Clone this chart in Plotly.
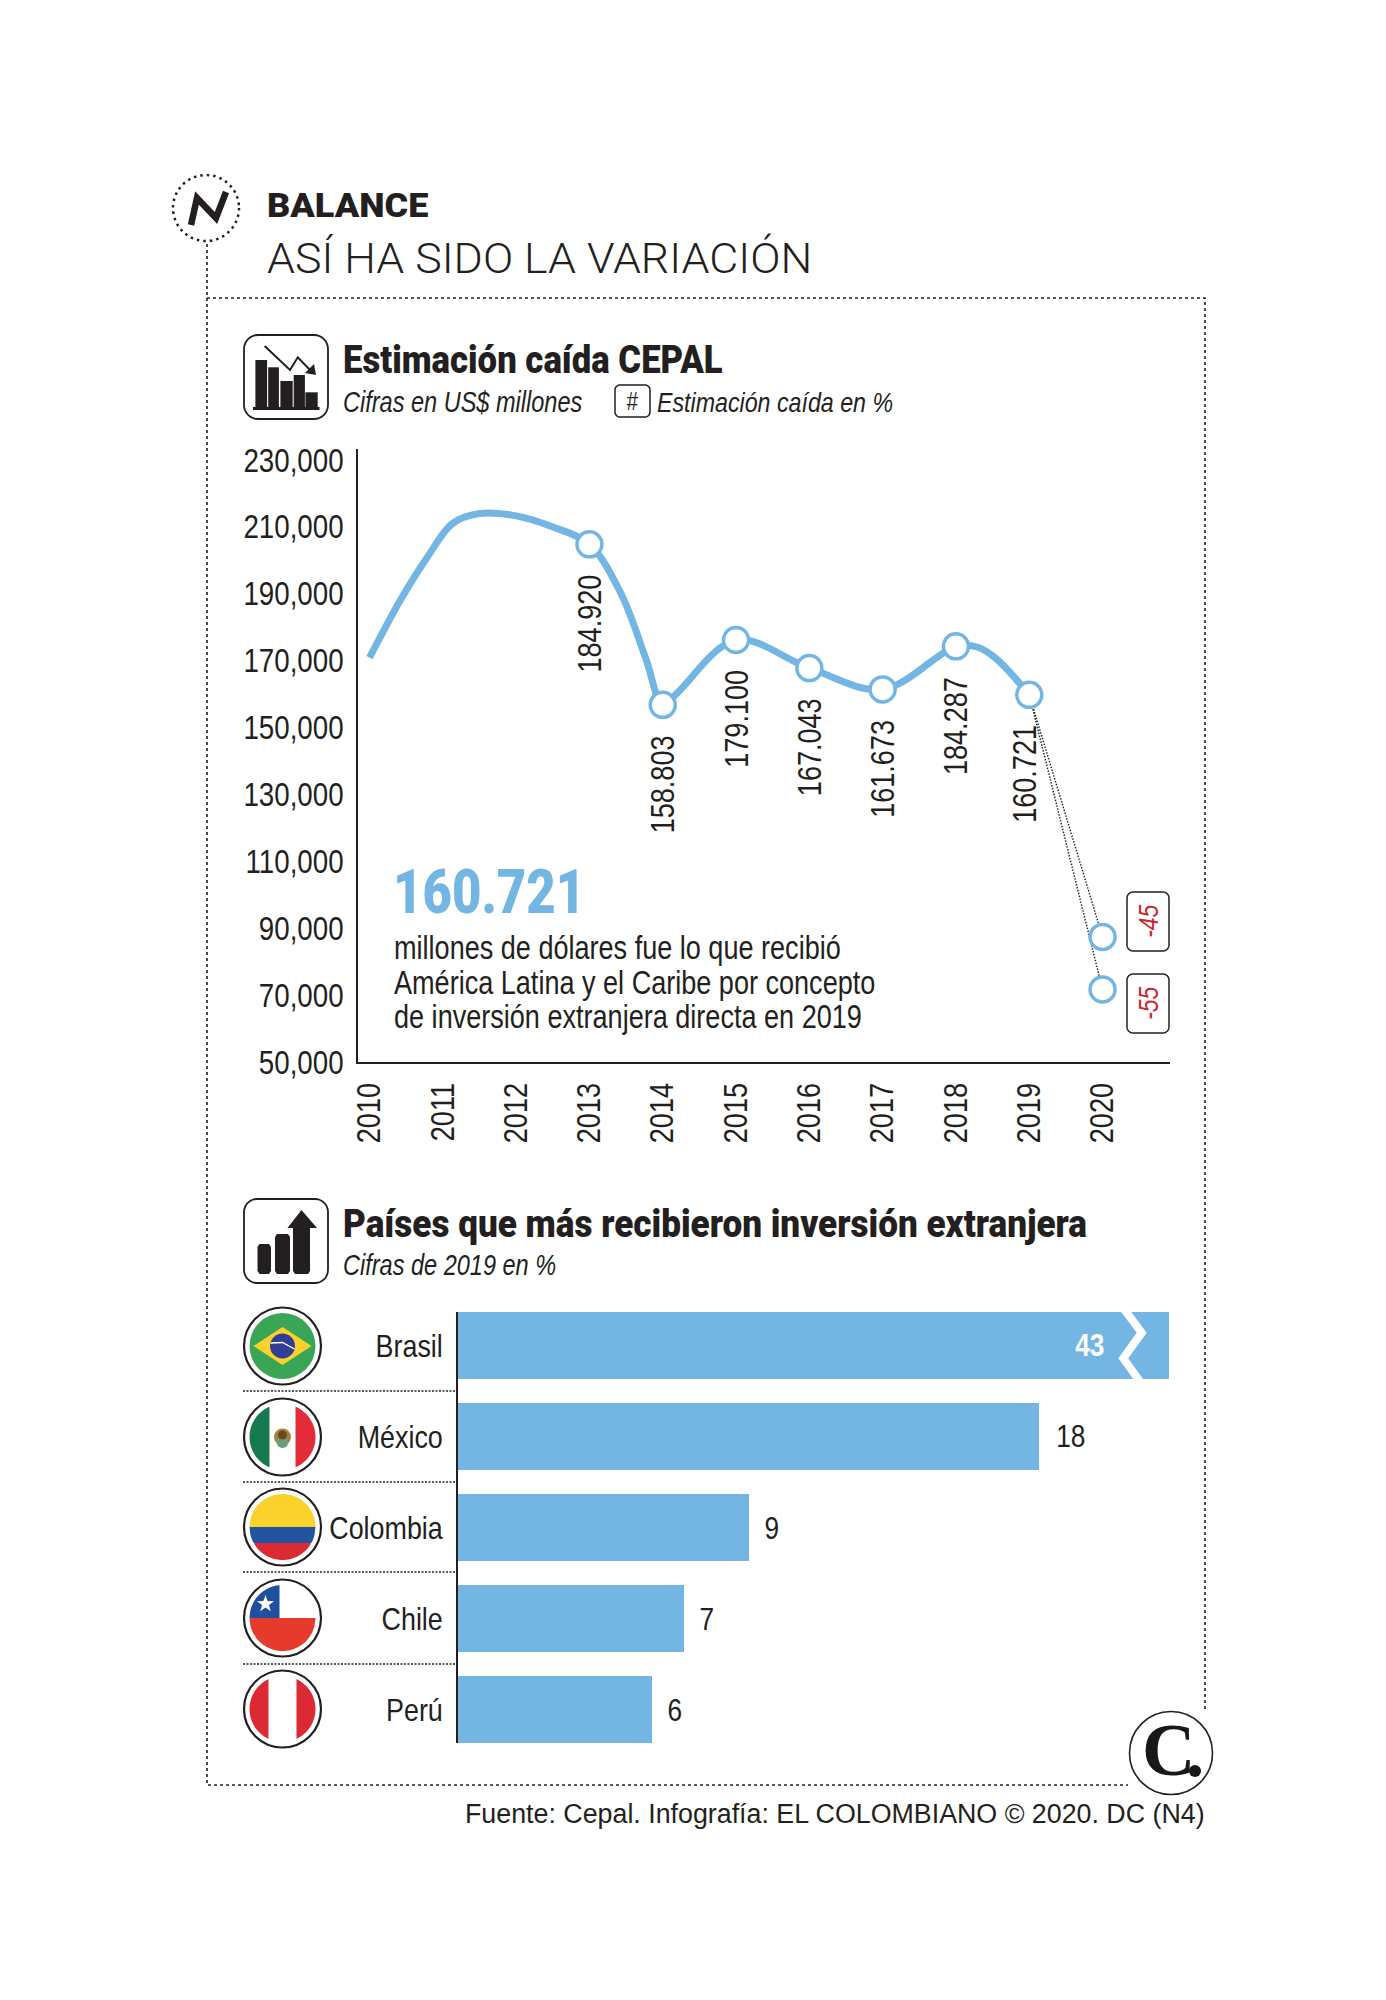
import numpy as np
import plotly.graph_objects as go

# ---------- data ----------
# the curve as drawn (some readings fall between years)
curve_x = [2010, 2010.44, 2010.8, 2011.13, 2011.5, 2012, 2012.5, 2013, 2013.43, 2013.77, 2014, 2014.2,
           2015, 2016, 2017, 2018, 2018.29, 2018.55, 2019]
curve_y = [170900, 188800, 201300, 211000, 214000, 213300, 210000, 204800, 190100, 170600, 156800, 160400,
           176200, 167800, 161400, 174300, 174100, 170600, 159800]
marker_years = [2013, 2014, 2015, 2016, 2017, 2018, 2019]
marker_values = [204800, 156800, 176200, 167800, 161400, 174300, 159800]
marker_labels = ["184.920", "158.803", "179.100", "167.043", "161.673", "184.287", "160.721"]
estim_year = [2020, 2020]
estim_values = [87400, 71700]
estim_labels = ["-45", "-55"]
y_ticks = [50000, 70000, 90000, 110000, 130000, 150000, 170000, 190000, 210000, 230000]
x_ticks = [2010, 2011, 2012, 2013, 2014, 2015, 2016, 2017, 2018, 2019, 2020]
paises = ["Brasil", "México", "Colombia", "Chile", "Perú"]
porcentaje = [43, 18, 9, 7, 6]

# ---------- style ----------
W, H = 1386, 2000
BLUE = "#73b5e3"
INK = "#231f20"
RED = "#c9252f"
# the fallback name "sqNN" marks text to be set at NN% of its width after drawing
NARROW = "Liberation Sans, sq82"
NARROW84 = "Liberation Sans, sq84"
HEAVY = "Roboto, sq82"
TITLE = "Roboto, sq89"
SANS = "Liberation Sans"


def px(x):
    return x / W


def py(y):
    return 1 - y / H


def pth(points, close=True):
    s = "M " + " L ".join(f"{px(x):.5f},{py(y):.5f}" for x, y in points)
    return s + (" Z" if close else "")


shapes = []


def poly(points, fill=INK):
    shapes.append(dict(type="path", xref="paper", yref="paper", path=pth(points),
                       fillcolor=fill, line=dict(width=0)))


def line(points, color=INK, width=1.5, dash="solid"):
    shapes.append(dict(type="path", xref="paper", yref="paper", path=pth(points, False),
                       line=dict(color=color, width=width, dash=dash), fillcolor="rgba(0,0,0,0)"))


def circle(cx, cy, r, fill="rgba(0,0,0,0)", color=INK, width=1.5, dash="solid"):
    shapes.append(dict(type="circle", xref="paper", yref="paper",
                       x0=px(cx - r), x1=px(cx + r), y0=py(cy + r), y1=py(cy - r),
                       fillcolor=fill, line=dict(color=color, width=width, dash=dash)))


def rrect(x0, y0, x1, y1, r, color=INK, width=1.8, fill="white"):
    pts = []
    for cx, cy, a0 in [(x1 - r, y0 + r, -90), (x1 - r, y1 - r, 0), (x0 + r, y1 - r, 90), (x0 + r, y0 + r, 180)]:
        for a in np.radians(np.linspace(a0, a0 + 90, 9)):
            pts.append((cx + r * np.cos(a), cy + r * np.sin(a)))
    shapes.append(dict(type="path", xref="paper", yref="paper", path=pth(pts),
                       fillcolor=fill, line=dict(color=color, width=width)))


def region(cx, cy, r, x0, x1, ymin, ymax, fill):
    xs = np.linspace(x0, x1, 70)
    top, bot = [], []
    for x in xs:
        h = np.sqrt(max(r * r - x * x, 0))
        a, b = max(-h, ymin), min(h, ymax)
        if a <= b:
            top.append((cx + x, cy + a))
            bot.append((cx + x, cy + b))
    poly(top + bot[::-1], fill)


annotations = []


def text(x, y, s, size, font=NARROW, color=INK, anchor="left", bold=False, italic=False, angle=0, weight=None):
    annotations.append(dict(
        xref="paper", yref="paper", x=px(x), y=py(y), text=s, showarrow=False,
        xanchor=anchor, yanchor="middle", textangle=angle, align=anchor,
        font=dict(family=font, size=size, color=color,
                  weight=weight if weight else ("bold" if bold else "normal"),
                  style="italic" if italic else "normal"),
        borderpad=0, borderwidth=0))


# ---------- frame and header ----------
DOT = "3px,3px"
line([(207, 244), (207, 1785), (1128, 1785)], width=1.6, dash=DOT)
line([(207, 298), (1205, 298), (1205, 1712)], width=1.6, dash=DOT)
circle(206, 208, 33, width=2.5, dash="2.5px,4px")
line([(191, 225), (197, 198), (216, 218), (226, 192)], width=6.5)
text(267, 205, "BALANCE", 34, font="Roboto, sq106", weight=900)
text(267, 258, "ASÍ HA SIDO LA VARIACIÓN", 43, font="Roboto, sq104", weight=300)

# ---------- icon 1 ----------
rrect(244, 335, 328, 419, 14)
for x0, x1, top in [(255.4, 267.1, 360), (268.2, 278.9, 367.3), (280.4, 292.7, 381),
                    (293.7, 304.9, 375), (305.4, 317.7, 392.3)]:
    poly([(x0, top), (x1, top), (x1, 408), (x0, 408)])
poly([(253, 407), (319.5, 407), (319.5, 410), (253, 410)])
line([(264.6, 346), (290, 370), (297.8, 357.3), (311, 371)], width=2)
poly([(316, 375), (305, 373), (314, 364)])

text(343, 360, "Estimación caída CEPAL", 39, font=TITLE, weight=900)
text(343, 402, "Cifras en US$ millones", 28.7, italic=True)
rrect(615, 385, 650, 417, 5, width=1.5)
text(632, 401, "#", 25, italic=True, anchor="center")
text(657, 402, "Estimación caída en %", 28.3, italic=True)

# ---------- icon 2 ----------
rrect(244, 1199, 328, 1283, 13)
for x0, x1, top in [(257.5, 271, 1244), (275, 290, 1234), (293, 310, 1225)]:
    poly([(x0 + 2, top), (x1 - 2, top), (x1, top + 3), (x1, 1271), (x1 - 2, 1274),
          (x0 + 2, 1274), (x0, 1271), (x0, top + 3)])
poly([(287.5, 1228), (301.5, 1210), (317, 1228)])

text(343, 1224, "Países que más recibieron inversión extranjera", 39, font="Roboto, sq90", weight=900)
text(343, 1265, "Cifras de 2019 en %", 28.7, italic=True)

# ---------- big figure ----------
text(393, 891, "160.721", 62, font=HEAVY, color=BLUE, weight=900)
text(394, 947, "millones de dólares fue lo que recibió", 33)
text(394, 982, "América Latina y el Caribe por concepto", 33)
text(394, 1016, "de inversión extranjera directa en 2019", 33)

# ---------- red boxes ----------
for (y0, y1), lab in zip([(892, 951), (974, 1033)], estim_labels):
    rrect(1127, y0, 1169, y1, 6, width=1.5)
    text(1148, (y0 + y1) / 2, lab, 28, color=RED, italic=True, anchor="center", angle=-90)

# ---------- flags ----------
FX, R_OUT, R_IN = 282.5, 38.5, 33
FY = [1346, 1437, 1527, 1618, 1709]
GREEN, YEL, NAVY, FRED = "#3aa655", "#fbd12b", "#21539f", "#dc2a35"
for fy in FY:
    circle(FX, fy, R_OUT, fill="white", width=2.2)
# Brasil
circle(FX, FY[0], R_IN, fill=GREEN, width=0)
poly([(FX - 29, FY[0]), (FX, FY[0] - 19), (FX + 29, FY[0]), (FX, FY[0] + 19)], YEL)
circle(FX, FY[0], 12.5, fill="#2f3f96", width=0)
line([(FX - 12, FY[0] - 3), (FX, FY[0] - 3.5), (FX + 12, FY[0] + 3)], color="white", width=1.4)
# México
region(FX, FY[1], R_IN, -R_IN, -13, -R_IN, R_IN, "#17794f")
region(FX, FY[1], R_IN, 13, R_IN, -R_IN, R_IN, "#e32b3a")
circle(FX, FY[1], 8.5, fill="#a8803c", width=0)
circle(FX, FY[1] + 5, 6, fill="#6f9d7c", width=0)
circle(FX, FY[1] - 2, 4.5, fill="#6d4a22", width=0)
# Colombia
region(FX, FY[2], R_IN, -R_IN, R_IN, -R_IN, 0, YEL)
region(FX, FY[2], R_IN, -R_IN, R_IN, 0, 16, NAVY)
region(FX, FY[2], R_IN, -R_IN, R_IN, 16, R_IN, FRED)
# Chile
region(FX, FY[3], R_IN, -R_IN, R_IN, 0, R_IN, "#e63a2c")
region(FX, FY[3], R_IN, -R_IN, -3, -R_IN, 0, "#1f4fa0")
star = []
for k in range(10):
    rr = 9 if k % 2 == 0 else 3.6
    a = np.radians(-90 + 36 * k)
    star.append((FX - 17 + rr * np.cos(a), FY[3] - 14 + rr * np.sin(a)))
poly(star, "white")
# Perú
region(FX, FY[4], R_IN, -R_IN, -14, -R_IN, R_IN, FRED)
region(FX, FY[4], R_IN, 14, R_IN, -R_IN, R_IN, FRED)
# separators
for y in [1391, 1482, 1572, 1664]:
    line([(243, y), (457, y)], width=1.6, dash="2px,1.5px")

# ---------- C logo ----------
circle(1171, 1753, 41.5, fill="white", width=1.6)
text(1168, 1750, "C", 74, font="Liberation Serif", bold=True, anchor="center", color="#1a1718")
circle(1195, 1771, 6, fill="#1a1718", width=0)

# ---------- source ----------
text(1205, 1814, "Fuente: Cepal. Infografía: EL COLOMBIANO © 2020. DC (N4)", 26.8, font=SANS, anchor="right")

# ---------- figure ----------
fig = go.Figure()

# dotted projections
for ev in estim_values:
    fig.add_trace(go.Scatter(x=[marker_years[-1], estim_year[0]], y=[marker_values[-1], ev], mode="lines",
                             line=dict(color=INK, width=1.4, dash="1.5px,1.5px"),
                             hoverinfo="skip", showlegend=False))
fig.add_trace(go.Scatter(x=curve_x, y=curve_y, mode="lines",
                         line=dict(color=BLUE, width=7, shape="spline", smoothing=1.0),
                         showlegend=False))
fig.add_trace(go.Scatter(x=marker_years, y=marker_values, mode="markers",
                         marker=dict(size=25, color="white", line=dict(color=BLUE, width=3.5)),
                         showlegend=False))
fig.add_trace(go.Scatter(x=estim_year, y=estim_values, mode="markers",
                         marker=dict(size=25, color="white", line=dict(color=BLUE, width=3.5)),
                         showlegend=False))

for mx, my, lab in zip(marker_years, marker_values, marker_labels):
    annotations.append(dict(xref="x", yref="y", x=mx, y=my, text=lab, showarrow=False,
                            textangle=-90, xanchor="center", yanchor="top", yshift=-18,
                            xshift=-5 if mx == 2019 else 0,
                            font=dict(family=NARROW, size=33, color=INK)))

# bars: Brasil's value runs past the axis range, hence the break mark
fig.add_trace(go.Bar(x=porcentaje, y=paises, orientation="h", xaxis="x2", yaxis="y2",
                     marker=dict(color=BLUE, line=dict(width=0)), width=0.736, showlegend=False))
for name, val in zip(paises, porcentaje):
    if val > 22:
        annotations.append(dict(xref="x2", yref="y2", x=19.55, y=name, text=str(val), showarrow=False,
                                xanchor="center", yanchor="middle",
                                font=dict(family=NARROW, size=32, color="white", weight="bold")))
    else:
        annotations.append(dict(xref="x2", yref="y2", x=val, y=name, text=str(val), showarrow=False,
                                xanchor="left", yanchor="middle", xshift=12,
                                font=dict(family=NARROW, size=32, color=INK)))
line([(1124, 1309), (1141.7, 1332.7), (1123.3, 1358.3), (1141, 1383)], color="white", width=8)

fig.update_layout(
    template="none",
    width=W, height=H, autosize=False,
    margin=dict(l=0, r=0, t=0, b=0, pad=0, autoexpand=False),
    paper_bgcolor="white", plot_bgcolor="white",
    showlegend=False, bargap=0,
    xaxis=dict(domain=[px(358), px(1170)], range=[2010 - 0.157, 2020 + 0.92], anchor="y", automargin=False,
               tickmode="array", tickvals=x_ticks, ticktext=[str(v) for v in x_ticks],
               tickangle=-90, ticklabelstandoff=6, showgrid=False, zeroline=False,
               showline=True, linecolor=INK, linewidth=1.6, ticks="",
               tickfont=dict(family=NARROW, size=33, color=INK)),
    yaxis=dict(domain=[py(1062), py(449)], range=[50000, 233300], anchor="x", automargin=False,
               tickmode="array", tickvals=y_ticks, ticktext=[f"{v:,}" for v in y_ticks],
               ticklabelstandoff=6, showgrid=False, zeroline=False,
               showline=True, linecolor=INK, linewidth=1.6, ticks="",
               tickfont=dict(family=NARROW84, size=33, color=INK)),
    xaxis2=dict(domain=[px(458), px(1169)], range=[0, 22.01], anchor="y2", visible=False, automargin=False),
    yaxis2=dict(domain=[py(1743), py(1312)], range=[4.368, -0.368], anchor="x2", type="category", automargin=False,
                categoryorder="array", categoryarray=paises,
                ticklabelstandoff=7, showgrid=False, zeroline=False,
                showline=True, linecolor=INK, linewidth=1.6, ticks="",
                tickfont=dict(family=NARROW84, size=32, color=INK)),
    shapes=shapes, annotations=annotations,
)

SQUEEZE = """
document.body.style.margin = '0';
function squeeze() {
  document.querySelectorAll('svg text').forEach(function (t) {
    var m = (t.style.fontFamily || '').match(/sq(\\d+)/);
    if (m && !t.hasAttribute('textLength')) {
      var L = t.getComputedTextLength() * parseInt(m[1], 10) / 100;
      t.setAttribute('textLength', L);
      t.setAttribute('lengthAdjust', 'spacingAndGlyphs');
    }
  });
}
squeeze();
setTimeout(squeeze, 200);
"""
fig.write_html("out.html", config={"displayModeBar": False}, post_script=SQUEEZE)
